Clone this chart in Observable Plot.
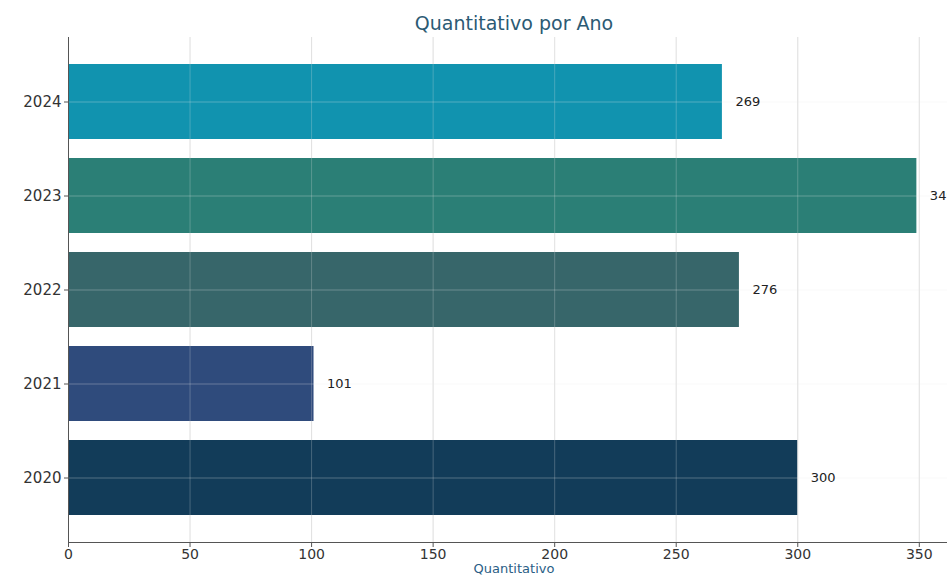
<!DOCTYPE html>
<html><head><meta charset="utf-8">
<script src="https://cdn.jsdelivr.net/npm/d3@7"></script>
<script src="https://cdn.jsdelivr.net/npm/@observablehq/plot@0.6"></script>
<style>
body{margin:0;background:#fff;font-family:"DejaVu Sans",sans-serif;overflow:hidden;}
#title{position:relative;height:37px;width:947px;}
#title span{position:absolute;left:514px;top:12px;transform:translateX(-50%);font-size:19px;color:#2b5a74;white-space:nowrap;}
#chart svg{display:block;}
</style></head><body>
<div id="title"><span>Quantitativo por Ano</span></div>
<div id="chart"></div>
<script>
const years = ["2020", "2021", "2022", "2023", "2024"];
const values = [300, 101, 276, 349, 269];
const colors = ["#123c59", "#2f4b7c", "#37666a", "#2b7f76", "#1193af"];
const xTicks = [0, 50, 100, 150, 200, 250, 300, 350];
const xLabel = "Quantitativo";

const data = years.map((y, i) => ({year: y, value: values[i], color: colors[i]}));

const chart = Plot.plot({
  width: 947,
  height: 543,
  marginTop: 0,
  marginLeft: 68,
  marginRight: 0,
  marginBottom: 38,
  style: {fontFamily: "DejaVu Sans, sans-serif", fontSize: "14px", background: "#fff", color: "#333"},
  x: {domain: [0, 361.6], axis: null},
  y: {domain: [...years].reverse(), paddingInner: 0.2, paddingOuter: 0.275, axis: null},
  marks: [
    Plot.gridX(xTicks, {stroke: "#d8d8d8", strokeOpacity: 0.8}),
    Plot.barX(data, {x: "value", y: "year", fill: "color"}),
    Plot.gridX(xTicks, {stroke: "#e8e8e8", strokeOpacity: 0.25}),
    Plot.gridY(years, {stroke: "#e8e8e8", strokeOpacity: 0.3}),
    Plot.text(data, {x: "value", y: "year", text: d => String(d.value), dx: 13, textAnchor: "start", fontSize: 13, fill: "#222"}),
    Plot.frame({anchor: "left", stroke: "#555"}),
    Plot.frame({anchor: "bottom", stroke: "#555"}),
    Plot.axisX({ticks: xTicks, tickSize: 5, tickPadding: 2, fontSize: 14, fill: "#333", stroke: "#555", label: null}),
    Plot.axisY({tickSize: 4, tickPadding: 3, fontSize: 15, fill: "#333", stroke: "#555", label: null}),
    Plot.text([xLabel], {frameAnchor: "bottom", dy: 30, dx: 6, fontSize: 13, fill: "#2a5e86"})
  ]
});
document.getElementById("chart").appendChild(chart);
</script>
</body></html>
